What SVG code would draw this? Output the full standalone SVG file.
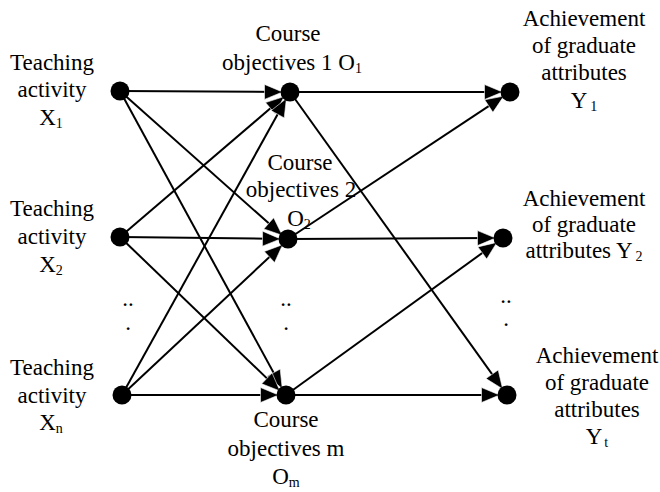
<svg xmlns="http://www.w3.org/2000/svg" width="660" height="492" viewBox="0 0 660 492">
  <!-- connectors: activities to objectives, objectives to attributes -->
  <g id="connectors">
    <g stroke="#000" stroke-width="2" fill="none">
      <line x1="120" y1="91" x2="282.5" y2="92"/>
      <line x1="120" y1="91" x2="282.2" y2="235.3"/>
      <line x1="120" y1="91" x2="282.2" y2="388.5"/>
      <line x1="120" y1="237" x2="284.1" y2="96.6"/>
      <line x1="120" y1="237" x2="280.5" y2="238.9"/>
      <line x1="120" y1="237" x2="279.9" y2="390.9"/>
      <line x1="122" y1="395" x2="286.4" y2="98.5"/>
      <line x1="122" y1="395" x2="282.6" y2="244.7"/>
      <line x1="122" y1="395" x2="278.5" y2="395"/>
      <line x1="290" y1="92" x2="502.5" y2="92"/>
      <line x1="290" y1="92" x2="502.6" y2="388.9"/>
      <line x1="288" y1="239" x2="503.8" y2="96.1"/>
      <line x1="288" y1="239" x2="495.5" y2="238"/>
      <line x1="286" y1="395" x2="496.9" y2="242.4"/>
      <line x1="286" y1="395" x2="499.5" y2="395"/>
    </g>
    <!-- arrowheads -->
    <g fill="#000" stroke="#fff" stroke-width="0.6">
      <polygon points="282.5,92 264.5,84.4 264.5,99.4"/>
      <polygon points="282.2,235.3 263.8,228.9 273.7,217.7"/>
      <polygon points="282.2,388.5 267.0,376.3 280.2,369.1"/>
      <polygon points="284.1,96.6 275.3,114.0 265.5,102.6"/>
      <polygon points="280.5,238.9 262.4,246.2 262.6,231.2"/>
      <polygon points="279.9,390.9 261.7,383.8 272.1,373.0"/>
      <polygon points="286.4,98.5 284.2,117.9 271.1,110.6"/>
      <polygon points="282.6,244.7 274.6,262.5 264.3,251.5"/>
      <polygon points="278.5,395 260.5,402.5 260.5,387.5"/>
      <polygon points="502.5,92 484.5,99.5 484.5,84.5"/>
      <polygon points="502.6,388.9 486.0,378.6 498.2,369.9"/>
      <polygon points="503.8,96.1 492.9,112.3 484.7,99.8"/>
      <polygon points="495.5,238 477.5,245.6 477.5,230.6"/>
      <polygon points="496.9,242.4 486.7,259.0 477.9,246.9"/>
      <polygon points="499.5,395 481.5,402.5 481.5,387.5"/>
    </g>
  </g>

  <g id="x1">
    <circle cx="120" cy="91" r="9.5" fill="#000"/>
    <text font-family="Liberation Serif" font-size="23" text-anchor="middle" x="52" y="70">Teaching</text>
    <text font-family="Liberation Serif" font-size="23" text-anchor="middle" x="52" y="97">activity</text>
    <text font-family="Liberation Serif" font-size="23" text-anchor="middle" x="51" y="125">X<tspan font-size="14" dy="3">1</tspan></text>
  </g>
  <g id="x2">
    <circle cx="120" cy="237" r="9.5" fill="#000"/>
    <text font-family="Liberation Serif" font-size="23" text-anchor="middle" x="52" y="216">Teaching</text>
    <text font-family="Liberation Serif" font-size="23" text-anchor="middle" x="52" y="244">activity</text>
    <text font-family="Liberation Serif" font-size="23" text-anchor="middle" x="51" y="272">X<tspan font-size="14" dy="3">2</tspan></text>
  </g>
  <g id="xn">
    <circle cx="122" cy="395" r="9.5" fill="#000"/>
    <text font-family="Liberation Serif" font-size="23" text-anchor="middle" x="52" y="375">Teaching</text>
    <text font-family="Liberation Serif" font-size="23" text-anchor="middle" x="52" y="403">activity</text>
    <text font-family="Liberation Serif" font-size="23" text-anchor="middle" x="51" y="430">X<tspan font-size="14" dy="3">n</tspan></text>
  </g>
  <g id="x-ellipsis">
    <text font-family="Liberation Serif" font-size="23" text-anchor="middle" x="128" y="306">..</text>
    <text font-family="Liberation Serif" font-size="23" text-anchor="middle" x="128" y="330">.</text>
  </g>

  <g id="o1">
    <circle cx="290" cy="92" r="9.5" fill="#000"/>
    <text font-family="Liberation Serif" font-size="23" text-anchor="middle" x="288" y="41">Course</text>
    <text font-family="Liberation Serif" font-size="23" text-anchor="middle" x="292" y="70">objectives 1 O<tspan font-size="14" dy="3">1</tspan></text>
  </g>
  <g id="o2">
    <circle cx="288" cy="239" r="9.5" fill="#000"/>
    <text font-family="Liberation Serif" font-size="23" text-anchor="middle" x="300" y="170">Course</text>
    <text font-family="Liberation Serif" font-size="23" text-anchor="middle" x="301" y="197">objectives 2</text>
    <text font-family="Liberation Serif" font-size="23" text-anchor="middle" x="299" y="226">O<tspan font-size="14" dy="3">2</tspan></text>
  </g>
  <g id="om">
    <circle cx="286" cy="395" r="9.5" fill="#000"/>
    <text font-family="Liberation Serif" font-size="23" text-anchor="middle" x="286" y="427">Course</text>
    <text font-family="Liberation Serif" font-size="23" text-anchor="middle" x="286" y="456">objectives m</text>
    <text font-family="Liberation Serif" font-size="23" text-anchor="middle" x="286" y="484">O<tspan font-size="14" dy="3">m</tspan></text>
  </g>
  <g id="o-ellipsis">
    <text font-family="Liberation Serif" font-size="23" text-anchor="middle" x="286" y="306">..</text>
    <text font-family="Liberation Serif" font-size="23" text-anchor="middle" x="286" y="330">.</text>
  </g>

  <g id="y1">
    <circle cx="510" cy="92" r="9.5" fill="#000"/>
    <text font-family="Liberation Serif" font-size="23" text-anchor="middle" x="584" y="26">Achievement</text>
    <text font-family="Liberation Serif" font-size="23" text-anchor="middle" x="584" y="53">of graduate</text>
    <text font-family="Liberation Serif" font-size="23" text-anchor="middle" x="584" y="80">attributes</text>
    <text font-family="Liberation Serif" font-size="23" text-anchor="middle" x="584" y="108">Y<tspan font-size="14" dx="3" dy="3">1</tspan></text>
  </g>
  <g id="y2">
    <circle cx="503" cy="238" r="9.5" fill="#000"/>
    <text font-family="Liberation Serif" font-size="23" text-anchor="middle" x="584" y="206">Achievement</text>
    <text font-family="Liberation Serif" font-size="23" text-anchor="middle" x="584" y="232">of graduate</text>
    <text font-family="Liberation Serif" font-size="23" text-anchor="middle" x="584" y="258">attributes Y<tspan font-size="14" dx="3" dy="3">2</tspan></text>
  </g>
  <g id="yt">
    <circle cx="507" cy="395" r="9.5" fill="#000"/>
    <text font-family="Liberation Serif" font-size="23" text-anchor="middle" x="597" y="363">Achievement</text>
    <text font-family="Liberation Serif" font-size="23" text-anchor="middle" x="597" y="390">of graduate</text>
    <text font-family="Liberation Serif" font-size="23" text-anchor="middle" x="597" y="417">attributes</text>
    <text font-family="Liberation Serif" font-size="23" text-anchor="middle" x="597" y="444">Y<tspan font-size="14" dx="2" dy="3">t</tspan></text>
  </g>
  <g id="y-ellipsis">
    <text font-family="Liberation Serif" font-size="23" text-anchor="middle" x="506" y="303">..</text>
    <text font-family="Liberation Serif" font-size="23" text-anchor="middle" x="506" y="326">.</text>
  </g>
</svg>
